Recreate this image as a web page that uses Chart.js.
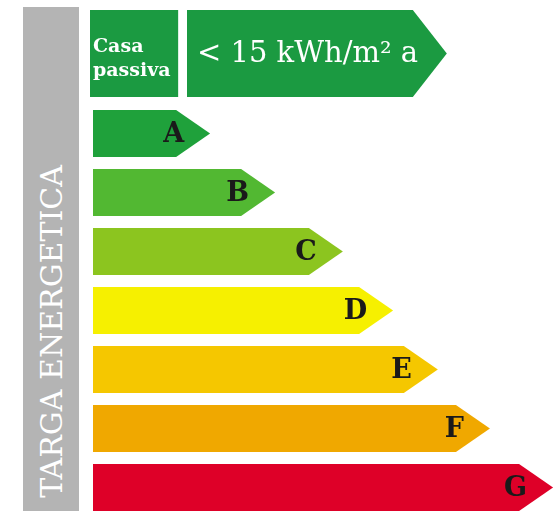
<!DOCTYPE html>
<html><head><meta charset="utf-8">
<script src="https://cdn.jsdelivr.net/npm/chart.js@4"></script>
<style>
html,body{margin:0;padding:0;background:#fff;width:554px;height:511px;overflow:hidden;position:relative}
#side{position:absolute;left:23px;top:7px;width:56px;height:520px;background:#b4b4b4}
#sidetext{position:absolute;left:0;width:56px;bottom:29px;writing-mode:vertical-rl;transform:rotate(180deg);font:30px "DejaVu Serif";color:#fff;line-height:58px;white-space:nowrap}
#topc{position:absolute;left:90px;top:7px}
#botc{position:absolute;left:93px;top:104px}
</style></head>
<body>
<div id="side"><div id="sidetext">TARGA ENERGETICA</div></div>
<canvas id="topc" width="464" height="93"></canvas>
<canvas id="botc" width="461" height="413"></canvas>
<script>
// ---- data ----
const topLabels = ["Casa passiva"];
const topBoxRange = [[0, 19.0]];
const topBarRange = [[20.9, 76.9]];
const topBarText = "< 15 kWh/m\u00b2 a";
const classLabels = ["A", "B", "C", "D", "E", "F", "G"];
const classValues = [25.4, 39.5, 54.2, 65.1, 74.8, 86.1, 99.8];
const classColors = ["#1fa13b", "#52b832", "#8cc51f", "#f6f000", "#f5c700", "#f0a800", "#de0028"];
const topColor = "#1b9a41";

const TIP = 34;
const shapePlugin = {
  id: 'shapes',
  beforeDatasetDraw(chart, args) {
    const ds = chart.data.datasets[args.index];
    const ctx = chart.ctx;
    args.meta.data.forEach((el, i) => {
      const p = el.getProps(['x', 'y', 'base', 'height'], true);
      if (!isFinite(p.x) || !isFinite(p.base)) return;
      const left = Math.min(p.x, p.base), right = Math.max(p.x, p.base);
      const t = p.y - p.height / 2, b = p.y + p.height / 2;
      const tip = ds.tip ? TIP : 0;
      ctx.save();
      ctx.fillStyle = Array.isArray(ds.backgroundColor) ? ds.backgroundColor[i] : ds.backgroundColor;
      ctx.beginPath();
      ctx.moveTo(left, t);
      ctx.lineTo(right - tip, t);
      ctx.lineTo(right, p.y);
      ctx.lineTo(right - tip, b);
      ctx.lineTo(left, b);
      ctx.closePath();
      ctx.fill();
      ctx.restore();
    });
    return false;
  },
  afterDatasetsDraw(chart) {
    const ctx = chart.ctx;
    const mode = chart.options.plugins.shapes.mode;
    ctx.save();
    if (mode === 'classes') {
      const meta = chart.getDatasetMeta(0);
      ctx.font = 'bold 27px "DejaVu Serif"';
      ctx.fillStyle = '#1a1a1a';
      ctx.textAlign = 'right';
      ctx.textBaseline = 'middle';
      meta.data.forEach((el, i) => {
        ctx.fillText(chart.data.labels[i], el.x - 26, el.y + 1);
      });
    } else {
      const box = chart.getDatasetMeta(0).data[0];
      const bar = chart.getDatasetMeta(1).data[0];
      ctx.fillStyle = '#fff';
      ctx.textAlign = 'left';
      ctx.textBaseline = 'alphabetic';
      ctx.font = 'bold 19px "DejaVu Serif"';
      const words = chart.data.labels[0].split(' ');
      ctx.fillText(words[0], box.base + 3, box.y - 2);
      ctx.fillText(words[1], box.base + 3, box.y + 22);
      ctx.font = '29px "DejaVu Serif"';
      ctx.fillText(chart.options.plugins.shapes.text, bar.base + 10, bar.y + 8);
    }
    ctx.restore();
  }
};

const common = {
  responsive: false,
  animation: false,
  indexAxis: 'y',
  layout: { padding: 0 },
  scales: {
    x: { display: false, min: 0, max: 100 },
    y: { display: false }
  },
  plugins: { legend: { display: false }, tooltip: { enabled: false } }
};

new Chart(document.getElementById('topc'), {
  type: 'bar',
  data: {
    labels: topLabels,
    datasets: [
      { data: topBoxRange, backgroundColor: topColor, tip: false, grouped: false, barPercentage: 87/93, categoryPercentage: 1 },
      { data: topBarRange, backgroundColor: topColor, tip: true, grouped: false, barPercentage: 87/93, categoryPercentage: 1 }
    ]
  },
  options: Object.assign({}, common, { plugins: Object.assign({}, common.plugins, { shapes: { mode: 'top', text: topBarText } }) }),
  plugins: [shapePlugin]
});

new Chart(document.getElementById('botc'), {
  type: 'bar',
  data: {
    labels: classLabels,
    datasets: [
      { data: classValues, backgroundColor: classColors, tip: true, barPercentage: 47/59, categoryPercentage: 1 }
    ]
  },
  options: Object.assign({}, common, { plugins: Object.assign({}, common.plugins, { shapes: { mode: 'classes' } }) }),
  plugins: [shapePlugin]
});
</script>
</body></html>
